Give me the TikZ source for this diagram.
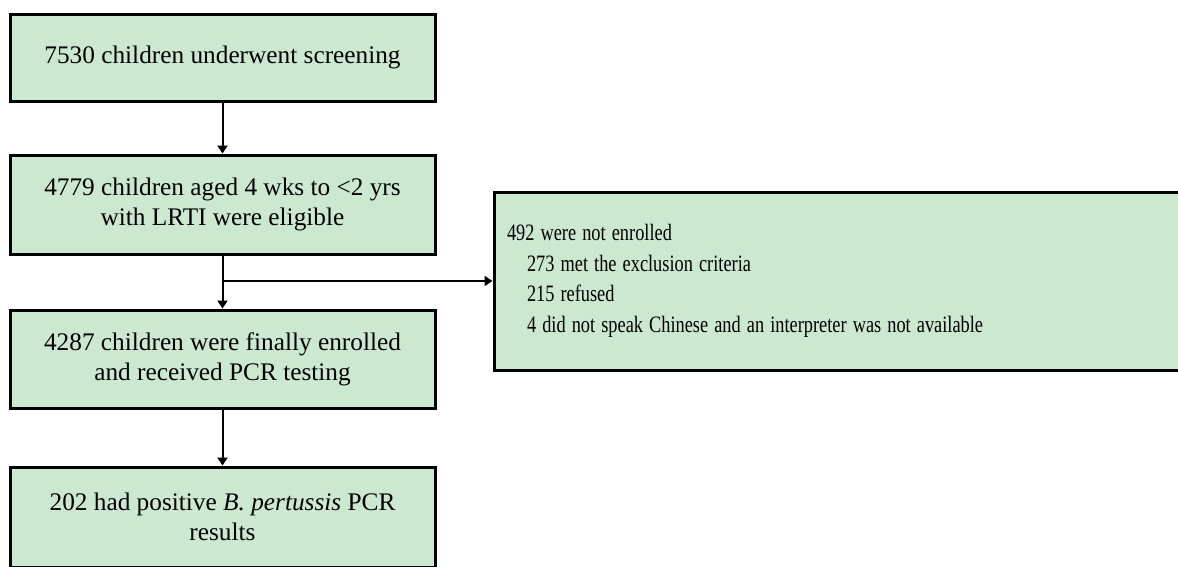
\documentclass[tikz,border=0pt]{standalone}
\usepackage{fontspec}
\usepackage{graphicx}
\setmainfont{Liberation Serif}
\usetikzlibrary{arrows.meta}
\definecolor{boxgreen}{RGB}{205,232,208}
\tikzset{
  flowbox/.style={draw=black, line width=3pt, fill=boxgreen, minimum width=425pt,
    align=center, font=\fontsize{25.3}{30}\selectfont, inner sep=0pt},
  sidebox/.style={draw=black, line width=3pt, fill=boxgreen, minimum width=688pt,
    minimum height=178pt, text width=662pt, align=left, inner sep=0pt,
    font=\fontsize{23.5}{30.5}\selectfont},
  flowarrow/.style={line width=2pt, -{Triangle[length=8pt,width=10pt]}}
}
\newcommand{\sq}[1]{\scalebox{0.78}[1]{#1}}
\begin{document}
\begin{tikzpicture}[x=1pt,y=-1pt]
\clip (0,0) rectangle (1178,566);
\fill[white] (0,0) rectangle (1178,566);
\node[flowbox, minimum height=87pt] (b1) at (222.5,57.5) {7530 children underwent screening};
\node[flowbox, minimum height=99pt] (b2) at (222.5,204.5) {4779 children aged 4 wks to <2 yrs\\with LRTI were eligible};
\node[flowbox, minimum height=98pt] (b3) at (222.5,359) {4287 children were finally enrolled\\and received PCR testing};
\node[flowbox, minimum height=100pt] (b4) at (222.5,517) {202 had positive \textit{B. pertussis} PCR\\results};
\node[sidebox] (side) at (838,281) {\sq{492 were not enrolled}\\
\hspace*{20pt}\sq{273 met the exclusion criteria}\\
\hspace*{20pt}\sq{215 refused}\\
\hspace*{20pt}\sq{4 did not speak Chinese and an interpreter was not available}};
\coordinate (split) at (b2.south |- side.west);
\draw[flowarrow] (b1.south) -- (b2.north);
\draw[flowarrow] (b2.south) -- (b3.north);
\draw[flowarrow] (split) -- (side.west);
\draw[flowarrow] (b3.south) -- (b4.north);
\end{tikzpicture}
\end{document}
